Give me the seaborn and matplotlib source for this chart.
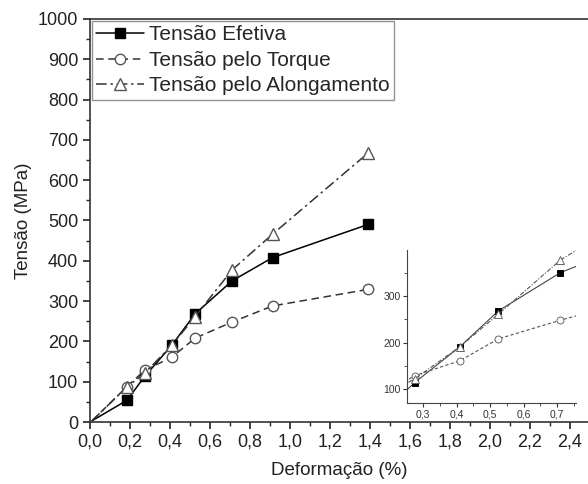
import matplotlib
matplotlib.use("Agg")
import matplotlib.pyplot as plt
from matplotlib.ticker import MultipleLocator
import seaborn as sns
import pandas as pd

# Data
deformacao = [0.01, 0.185, 0.275, 0.41, 0.525, 0.71, 0.913, 1.39]
tensao_efetiva = [3, 54, 114, 191, 268, 350, 408, 490]
tensao_torque = [3, 88, 129, 161, 208, 248, 288, 329]
tensao_along = [3, 87, 122, 191, 261, 377, 466, 667]
labels = ["Tensão Efetiva", "Tensão pelo Torque", "Tensão pelo Alongamento"]

sns.set_style("ticks")
plt.rcParams['font.family'] = ['Liberation Sans', 'DejaVu Sans']

fig = plt.figure(figsize=(5.88, 4.84), dpi=100)
ax = fig.add_axes([0.153, 0.128, 0.847, 0.833])

series = [tensao_efetiva, tensao_torque, tensao_along]
styles = [
    dict(linestyle='-', marker='s', markersize=6.5, markerfacecolor='black', markeredgecolor='black', color='black'),
    dict(linestyle=(0, (5, 3)), marker='o', markersize=7.5, markerfacecolor='white', markeredgecolor='#555555', color='#333333'),
    dict(linestyle=(0, (7, 2.5, 1.5, 2.5)), marker='^', markersize=8, markerfacecolor='white', markeredgecolor='#555555', color='#333333'),
]
mk_every = list(range(1, len(deformacao)))

for vals, lab, st in zip(series, labels, styles):
    df = pd.DataFrame({"x": deformacao, "y": vals})
    sns.lineplot(data=df, x="x", y="y", ax=ax, sort=False, label=lab,
                 linewidth=1.1, markeredgewidth=1.0, markevery=mk_every, **st)

ax.set_xlim(0, 2.49)
ax.set_ylim(0, 1000)
ax.xaxis.set_major_locator(MultipleLocator(0.2))
ax.xaxis.set_minor_locator(MultipleLocator(0.1))
ax.yaxis.set_major_locator(MultipleLocator(100))
ax.yaxis.set_minor_locator(MultipleLocator(50))
ax.xaxis.set_major_formatter(matplotlib.ticker.FuncFormatter(lambda v, p: f"{v:.1f}".replace('.', ',')))
ax.tick_params(which='major', direction='out', length=5, width=1.2, labelsize=13, colors='#222222')
ax.tick_params(which='minor', direction='out', length=3, width=1.0, colors='#222222')
ax.set_xlabel("Deformação (%)", fontsize=13.5, color='#222222', labelpad=8)
ax.set_ylabel("Tensão (MPa)", fontsize=13.5, color='#222222', labelpad=4)
for s in ['left', 'bottom', 'top']:
    ax.spines[s].set_color('#333333')
    ax.spines[s].set_linewidth(1.2)
ax.spines['right'].set_visible(False)

leg = ax.legend(loc='upper left', fontsize=15, frameon=True, fancybox=False,
                borderaxespad=0.1, handlelength=2.3, handletextpad=0.25,
                borderpad=0.2, labelspacing=0.32)
leg.get_frame().set_edgecolor('#777777')
leg.get_frame().set_linewidth(1.0)

# Inset
ins = fig.add_axes([0.692, 0.167, 0.288, 0.316])
in_styles = [
    dict(linestyle='-', marker='s', markersize=4.5, markerfacecolor='black', markeredgecolor='black', color='#444444'),
    dict(linestyle=(0, (3, 2)), marker='o', markersize=5, markerfacecolor='white', markeredgecolor='#666666', color='#555555'),
    dict(linestyle=(0, (4, 1.5, 1, 1.5)), marker='^', markersize=5.5, markerfacecolor='white', markeredgecolor='#666666', color='#555555'),
]
for vals, st in zip(series, in_styles):
    df = pd.DataFrame({"x": deformacao, "y": vals})
    sns.lineplot(data=df, x="x", y="y", ax=ins, sort=False, legend=False,
                 linewidth=0.8, markeredgewidth=0.7, **st)
ins.set_xlim(0.252, 0.757)
ins.set_ylim(70, 398)
ins.xaxis.set_major_locator(MultipleLocator(0.1))
ins.xaxis.set_minor_locator(MultipleLocator(0.05))
ins.yaxis.set_major_locator(MultipleLocator(100))
ins.yaxis.set_minor_locator(MultipleLocator(50))
ins.xaxis.set_major_formatter(matplotlib.ticker.FuncFormatter(lambda v, p: f"{v:.1f}".replace('.', ',')))
ins.tick_params(which='major', direction='out', length=3, width=0.8, labelsize=7.5, colors='#333333', pad=1.5)
ins.tick_params(which='minor', direction='out', length=2, width=0.6, colors='#333333')
ins.set_xlabel("")
ins.set_ylabel("")
ins.spines['top'].set_visible(False)
ins.spines['right'].set_visible(False)
for s in ['left', 'bottom']:
    ins.spines[s].set_color('#444444')
    ins.spines[s].set_linewidth(0.8)
ins.patch.set_alpha(0)

fig.savefig("out.png", dpi=100)
